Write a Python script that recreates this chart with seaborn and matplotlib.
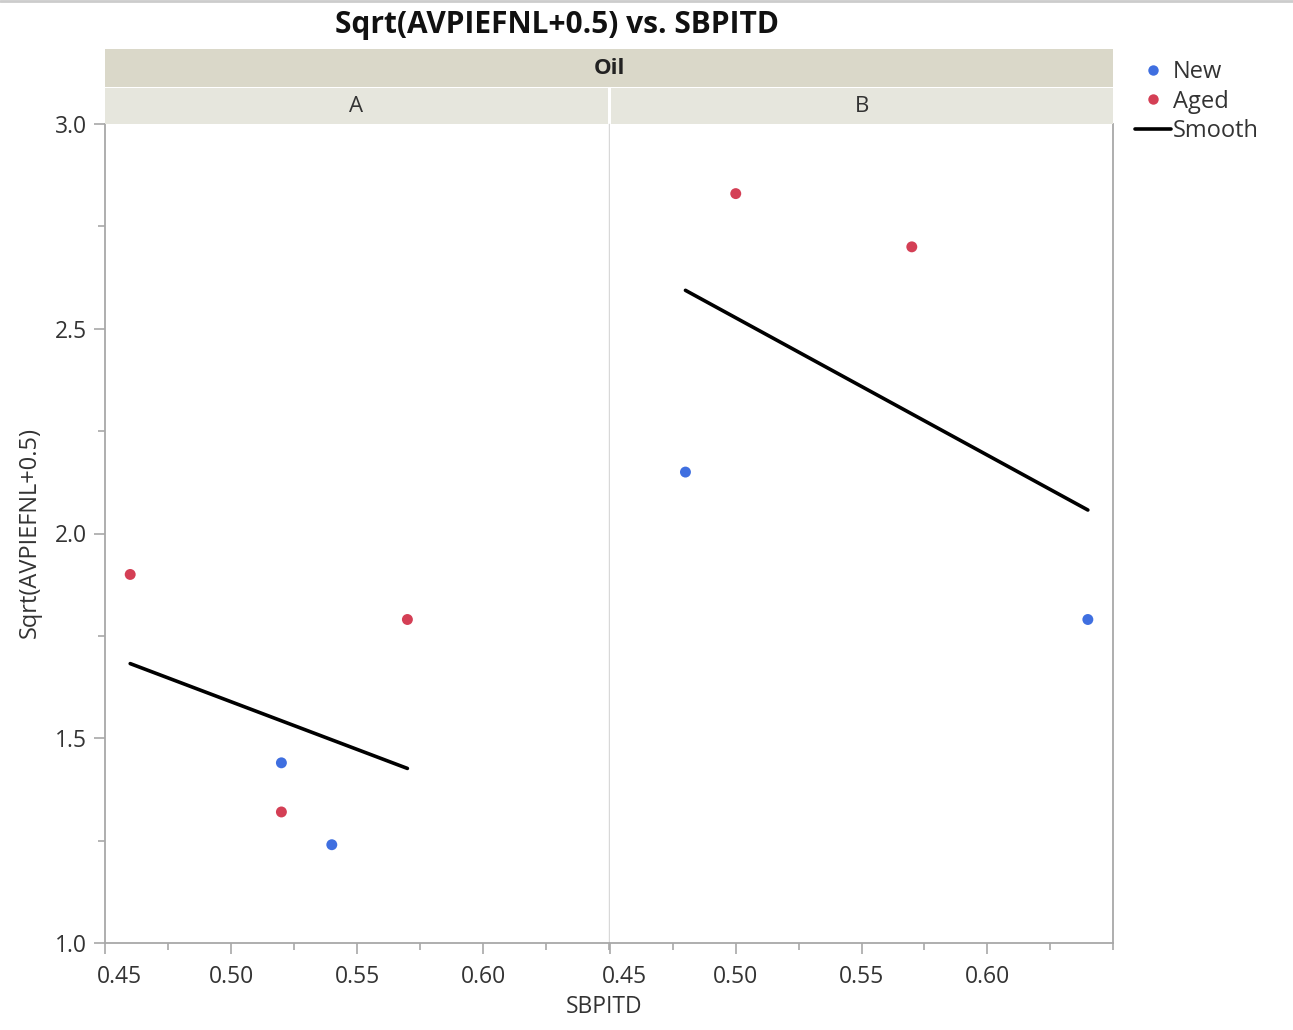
import matplotlib
matplotlib.use("Agg")
import matplotlib.pyplot as plt
from matplotlib.ticker import MultipleLocator, FormatStrFormatter
from matplotlib.lines import Line2D
from matplotlib.transforms import ScaledTranslation
import seaborn as sns
import pandas as pd

# ---- data ----
oil = ["A", "A", "A", "A", "A", "B", "B", "B", "B"]
sbpitd = [0.46, 0.57, 0.52, 0.52, 0.54, 0.48, 0.50, 0.57, 0.64]
sqrt_val = [1.90, 1.79, 1.44, 1.32, 1.24, 2.15, 2.83, 2.70, 1.79]
age = ["Aged", "Aged", "New", "Aged", "New", "New", "Aged", "Aged", "New"]
panels = ["A", "B"]
x_ticks = [0.45, 0.50, 0.55, 0.60]
y_ticks = [1.0, 1.5, 2.0, 2.5, 3.0]
palette = {"New": "#3F6FE0", "Aged": "#D43F55"}

df = pd.DataFrame({"Oil": oil, "SBPITD": sbpitd, "Y": sqrt_val, "Age": age})

sns.set_style("white")
FONT = ["Open Sans", "DejaVu Sans"]
plt.rcParams["font.family"] = FONT

W, H = 1293, 1030
fig = plt.figure(figsize=(W / 100, H / 100), dpi=100)

def fx(px):
    return px / W

def fy(py):
    return 1 - py / H

left_px, right_px, top_px, bot_px = 105, 1113, 124, 943
mid_l, mid_r = 609, 610
grey = "#A8A8A8"
txtc = "#333333"
LS = 16.5

axes = []
bounds = [(left_px, mid_l), (mid_r, right_px)]
for i, (p, (x0, x1)) in enumerate(zip(panels, bounds)):
    ax = fig.add_axes([fx(x0), fy(bot_px), fx(x1 - x0), (bot_px - top_px) / H])
    sub = df[df["Oil"] == p]
    sns.scatterplot(data=sub, x="SBPITD", y="Y", hue="Age", palette=palette,
                    s=62, edgecolor="none", ax=ax, legend=False, zorder=3)
    sns.regplot(data=sub, x="SBPITD", y="Y", scatter=False, ci=None,
                color="black", line_kws={"lw": 2.6}, ax=ax, truncate=True)
    ax.set_xlim(0.45, 0.65)
    ax.set_ylim(1.0, 3.0)
    ax.set_xticks(x_ticks)
    ax.xaxis.set_major_formatter(FormatStrFormatter("%.2f"))
    ax.xaxis.set_minor_locator(MultipleLocator(0.025))
    ax.set_xlabel("")
    ax.set_ylabel("")
    ax.tick_params(axis="x", which="major", length=8, width=1.2, color=grey,
                   labelsize=LS, labelcolor=txtc, pad=8, direction="out", bottom=True)
    ax.tick_params(axis="x", which="minor", length=5, width=1.2, color=grey,
                   direction="out", bottom=True)
    for s in ax.spines.values():
        s.set_color(grey)
        s.set_linewidth(1.3)
    ax.spines["top"].set_visible(False)
    if i == 0:
        ax.set_yticks(y_ticks)
        ax.yaxis.set_major_formatter(FormatStrFormatter("%.1f"))
        ax.yaxis.set_minor_locator(MultipleLocator(0.25))
        ax.tick_params(axis="y", which="major", length=8, width=1.2, color=grey,
                       labelsize=LS, labelcolor=txtc, pad=5, direction="out", left=True)
        ax.tick_params(axis="y", which="minor", length=5, width=1.2, color=grey,
                       direction="out", left=True)
        ax.spines["right"].set_color("#D8D8D8")
        ax.spines["right"].set_linewidth(1.0)
    else:
        ax.set_yticks([])
        ax.spines["left"].set_visible(False)
    axes.append(ax)

# first tick label of each panel sits slightly right of centre, as in the reference
for ax in axes:
    lab = ax.get_xticklabels()[0]
    lab.set_ha("left")
    lab.set_transform(lab.get_transform() + ScaledTranslation(-8 / 100, 0, fig.dpi_scale_trans))

# ---- header bands ----
hdr_oil = fig.add_axes([fx(left_px), fy(87), fx(right_px - left_px), (87 - 49) / H])
hdr_oil.set_facecolor("#DAD8C9")
hdr_oil.set_xticks([]); hdr_oil.set_yticks([])
for s in hdr_oil.spines.values():
    s.set_visible(False)
hdr_oil.text(0.5, 0.5, "Oil", ha="center", va="center", fontsize=16,
             fontweight="bold", color="#222222", transform=hdr_oil.transAxes)

for p, (x0, x1) in zip(panels, [(left_px, 608), (611, right_px)]):
    h = fig.add_axes([fx(x0), fy(124), fx(x1 - x0), (124 - 88) / H])
    h.set_facecolor("#E6E6DD")
    h.set_xticks([]); h.set_yticks([])
    for s in h.spines.values():
        s.set_visible(False)
    h.text(0.5, 0.5, p, ha="center", va="center", fontsize=16,
           color="#333333", transform=h.transAxes)

# ---- titles ----
fig.text(fx(557), fy(25), "Sqrt(AVPIEFNL+0.5) vs. SBPITD", ha="center", va="center",
         fontsize=21.5, fontweight="bold", color="#111111")
fig.text(fx(604), fy(1007), "SBPITD", ha="center", va="center", fontsize=LS, color=txtc)
fig.text(fx(30), fy(533), "Sqrt(AVPIEFNL+0.5)", ha="center", va="center",
         fontsize=17, color=txtc, rotation=90)

# top window border line
fig.add_artist(Line2D([0, 1], [fy(1), fy(1)], color="#CCCCCC", lw=2, transform=fig.transFigure))

# ---- legend ----
handles = [
    Line2D([], [], marker="o", ls="none", color=palette["New"], markersize=7.5, markeredgewidth=0),
    Line2D([], [], marker="o", ls="none", color=palette["Aged"], markersize=7.5, markeredgewidth=0),
    Line2D([], [], color="black", lw=2.6),
]
fig.legend(handles, ["New", "Aged", "Smooth"], loc="upper left",
           bbox_to_anchor=(fx(1126), fy(51)), frameon=False, fontsize=17,
           handlelength=1.5, handletextpad=0.1, labelspacing=0.22, borderaxespad=0,
           labelcolor=txtc)

fig.savefig("out.png", dpi=100, facecolor="white")
